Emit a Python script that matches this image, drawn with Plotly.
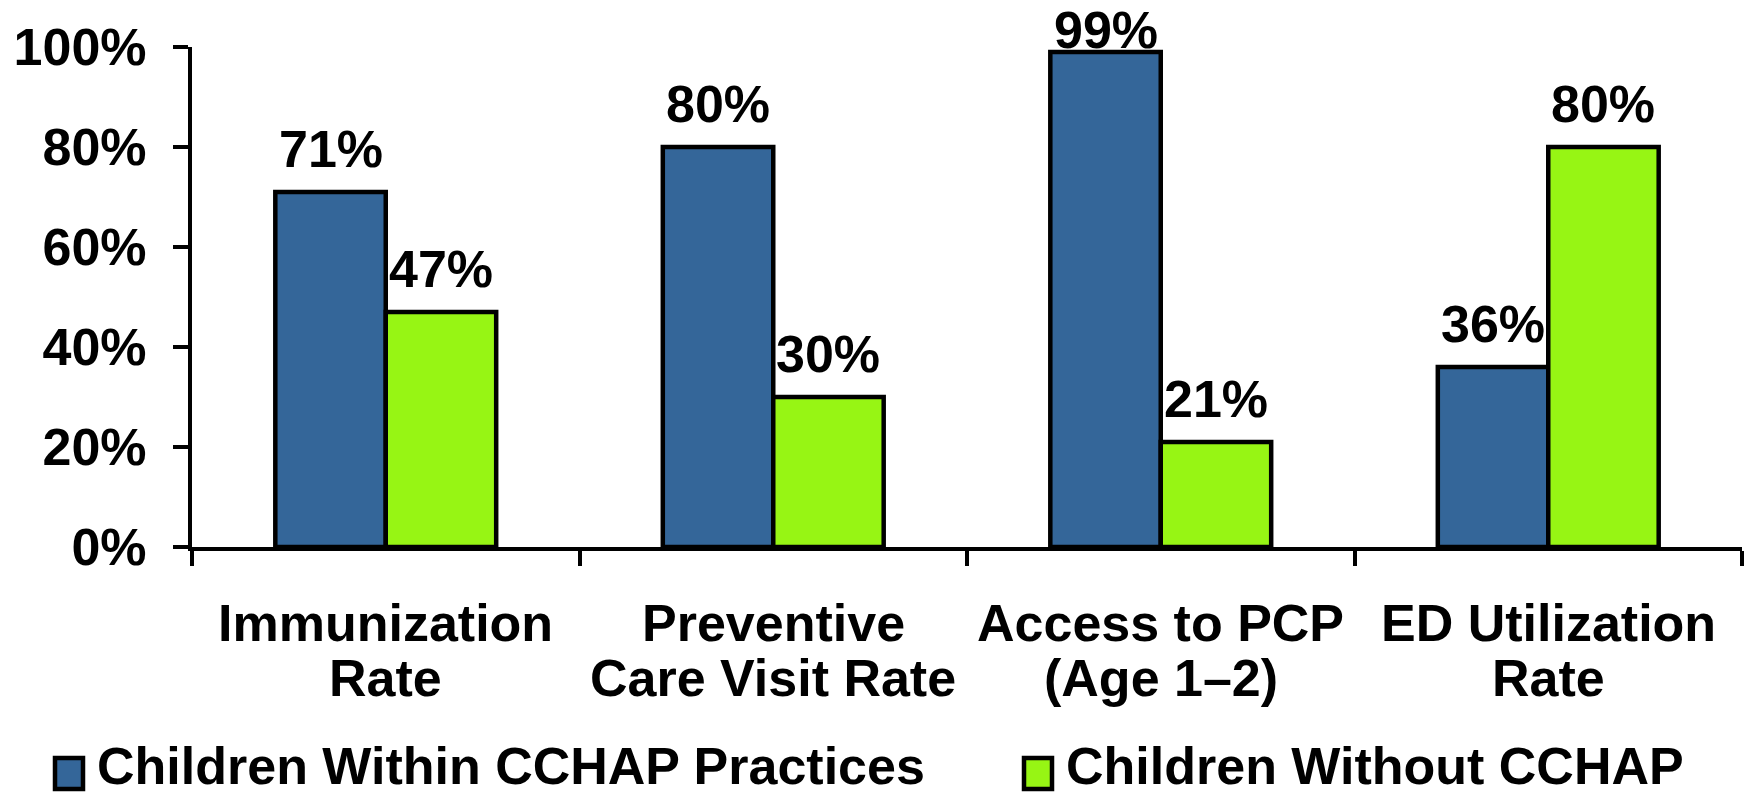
import plotly.graph_objects as go

# ---- data ----
categories = ["Immunization<br>Rate", "Preventive<br>Care Visit Rate",
              "Access to PCP<br>(Age 1–2)", "ED Utilization<br>Rate"]
series_names = ["Children Within CCHAP Practices", "Children Without CCHAP"]
within_cchap = [71, 80, 99, 36]
without_cchap = [47, 30, 21, 80]
y_ticks = [0, 20, 40, 60, 80, 100]
y_tick_labels = [f"{t}%" for t in y_ticks]

# ---- style ----
W, H = 1746, 796
M_L, M_R, M_T, M_B = 192, 4, 47, 249
PLOT_W = W - M_L - M_R
PLOT_H = H - M_T - M_B
FONT = "Liberation Sans, Arial, sans-serif"
BLUE = "#346699"
GREEN = "#97F514"
BARGAP = 0.43
PX_PER_UNIT = PLOT_H / 100.0


def px_x(px):
    return (px - M_L) / PLOT_W


def px_y(py):
    return (H - M_B - py) / PLOT_H


fig = go.Figure()
for name, vals, color in [(series_names[0], within_cchap, BLUE),
                          (series_names[1], without_cchap, GREEN)]:
    fig.add_trace(go.Bar(
        x=categories, y=vals, name=name, showlegend=False,
        marker=dict(color=color, line=dict(color="black", width=4.5)),
        hoverinfo="skip",
    ))

annotations = []
# value labels above each bar (pulled down near the top edge)
half = (1 - BARGAP) / 4
for si, vals in enumerate([within_cchap, without_cchap]):
    off = -half if si == 0 else half
    for i, v in enumerate(vals):
        bar_top_px = M_T + (100 - v) * PX_PER_UNIT
        shift = min(43.0, bar_top_px - 29.6)
        annotations.append(dict(
            x=i + off, y=v, xref="x", yref="y", yshift=shift,
            text=f"{v}%", showarrow=False, xanchor="center", yanchor="middle",
            font=dict(family=FONT, size=52, color="black", weight="bold"),
        ))

# two-line category labels under the axis
line_y = [px_y(623), px_y(678)]
for i, cat in enumerate(categories):
    for li, part in enumerate(cat.split("<br>")):
        annotations.append(dict(
            x=i, y=line_y[li], xref="x", yref="paper", text=part,
            showarrow=False, xanchor="center", yanchor="middle",
            font=dict(family=FONT, size=52, color="black", weight="bold"),
        ))

# legend: swatch squares + labels
shapes = []
legend_items = [(series_names[0], BLUE, 53, 96), (series_names[1], GREEN, 1022, 1065)]
for name, color, sx, tx in legend_items:
    shapes.append(dict(
        type="rect", xref="paper", yref="paper",
        x0=px_x(sx + 2), x1=px_x(sx + 30), y0=px_y(758), y1=px_y(789),
        fillcolor=color, line=dict(color="black", width=4.5),
    ))
    annotations.append(dict(
        x=px_x(tx), y=px_y(766), xref="paper", yref="paper", text=name,
        showarrow=False, xanchor="left", yanchor="middle", borderpad=0,
        font=dict(family=FONT, size=52, color="black", weight="bold"),
    ))

fig.update_layout(
    width=W, height=H,
    margin=dict(l=M_L, r=M_R, t=M_T, b=M_B, pad=0),
    paper_bgcolor="white", plot_bgcolor="white",
    barmode="group", bargap=BARGAP, bargroupgap=0,
    showlegend=False,
    annotations=annotations, shapes=shapes,
    font=dict(family=FONT, color="black"),
    xaxis=dict(
        showline=True, linecolor="black", linewidth=4,
        ticks="outside", tickson="boundaries", ticklen=15, tickwidth=4,
        tickcolor="black", showticklabels=False, showgrid=False,
        zeroline=False, fixedrange=True,
    ),
    yaxis=dict(
        range=[0, 100], tickmode="array", tickvals=y_ticks, ticktext=y_tick_labels,
        showline=True, linecolor="black", linewidth=4,
        ticks="outside", ticklen=15, tickwidth=4, tickcolor="black",
        ticklabelstandoff=16,
        tickfont=dict(family=FONT, size=52, color="black", weight="bold"),
        showgrid=False, zeroline=False, fixedrange=True,
    ),
)

fig.write_html("out.html", config={"displayModeBar": False})
